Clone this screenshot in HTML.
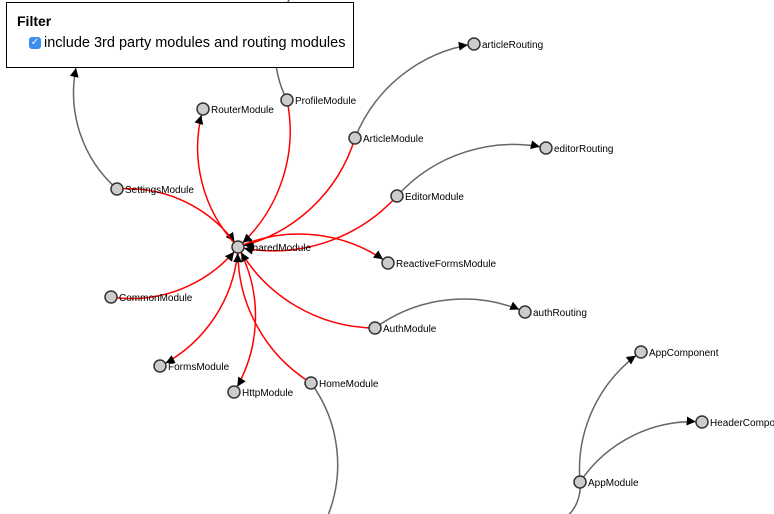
<!DOCTYPE html>
<html><head><meta charset="utf-8"><style>
body{margin:0;width:774px;height:514px;overflow:hidden;background:#fff;font-family:"Liberation Sans",sans-serif}
svg{position:absolute;left:0;top:0}
#filter{position:absolute;left:6px;top:2px;width:348px;height:66px;border:1px solid #000;background:#fff;box-sizing:border-box}
#filter h4{margin:0;position:absolute;left:10px;top:10px;font-size:14px;font-weight:bold}
#filter label{position:absolute;left:22px;top:32px;font-size:14.5px;display:flex;align-items:center}
.cb{width:12px;height:12px;background:#3b8ef0;border-radius:3px;margin-right:3px;color:#fff;font-size:10px;line-height:12px;text-align:center}
</style></head><body>
<svg id="g" width="774" height="514">
<defs>
<marker id="arr" viewBox="0 -5 10 10" refX="17" refY="0" markerWidth="6" markerHeight="6" orient="auto"><path d="M0,-5L10,0L0,5" fill="#000"/></marker>
<marker id="arr2" viewBox="0 -5 10 10" refX="10" refY="0" markerWidth="6" markerHeight="6" orient="auto"><path d="M0,-5L10,0L0,5" fill="#000"/></marker>
</defs>
</svg>
<div id="filter">
<h4>Filter</h4>
<label><span class="cb">✓</span>include 3rd party modules and routing modules</label>
</div>
<script>
const names=["SharedModule","RouterModule","ProfileModule","ArticleModule","articleRouting","editorRouting","EditorModule","SettingsModule","ReactiveFormsModule","CommonModule","AuthModule","authRouting","FormsModule","HttpModule","HomeModule","AppComponent","HeaderComponent","AppModule","p1","p2","p3","p4"];
const xs=[238,203,287,355,474,546,397,117,388,111,375,525,160,234,311,641,702,580,76,292,326,563];
const ys=[247,109,100,138,44,148,196,189,263,297,328,312,366,392,383,352,422,482,68,-5,520,520];
const visible=[1,1,1,1,1,1,1,1,1,1,1,1,1,1,1,1,1,1,0,0,0,0];
const sources=[7,0,2,3,6,0,9,0,0,14,10,7,2,3,6,10,14,17,17,17];
const targets=[0,1,0,0,0,8,0,12,13,0,0,18,19,4,5,11,20,15,16,21];
const sweeps=[1,1,1,1,1,1,0,1,1,1,1,1,1,1,1,1,1,1,1,1];
const red=[1,1,1,1,1,1,1,1,1,1,1,0,0,0,0,0,0,0,0,0];
const svg=document.getElementById('g');
const NS="http://www.w3.org/2000/svg";
for(let i=0;i<sources.length;i++){
 const s=sources[i],t=targets[i];
 const dx=xs[t]-xs[s],dy=ys[t]-ys[s],dr=Math.sqrt(dx*dx+dy*dy);
 const p=document.createElementNS(NS,'path');
 p.setAttribute('d',`M${xs[s]},${ys[s]}A${dr},${dr} 0 0,${sweeps[i]} ${xs[t]},${ys[t]}`);
 p.setAttribute('fill','none');
 p.setAttribute('stroke',red[i]?'#f00':'#666');
 p.setAttribute('stroke-width','1.5');
 if(visible[t])p.setAttribute('marker-end','url(#arr)');
 else if(ys[t]>0&&ys[t]<514)p.setAttribute('marker-end','url(#arr2)');
 
 
 svg.appendChild(p);
}
for(let i=0;i<names.length;i++){
 if(!visible[i])continue;
 const c=document.createElementNS(NS,'circle');
 c.setAttribute('cx',xs[i]);c.setAttribute('cy',ys[i]);c.setAttribute('r',6);
 c.setAttribute('fill','#ccc');c.setAttribute('stroke','#333');c.setAttribute('stroke-width','1.5');
 
 
 svg.appendChild(c);
 const tx=document.createElementNS(NS,'text');
 tx.setAttribute('x',xs[i]+8);tx.setAttribute('y',ys[i]+4);
 tx.setAttribute('font-size','10');tx.setAttribute('font-family','Liberation Sans, sans-serif');
 tx.textContent=names[i];
 
 
 svg.appendChild(tx);
}
</script>
</body></html>
